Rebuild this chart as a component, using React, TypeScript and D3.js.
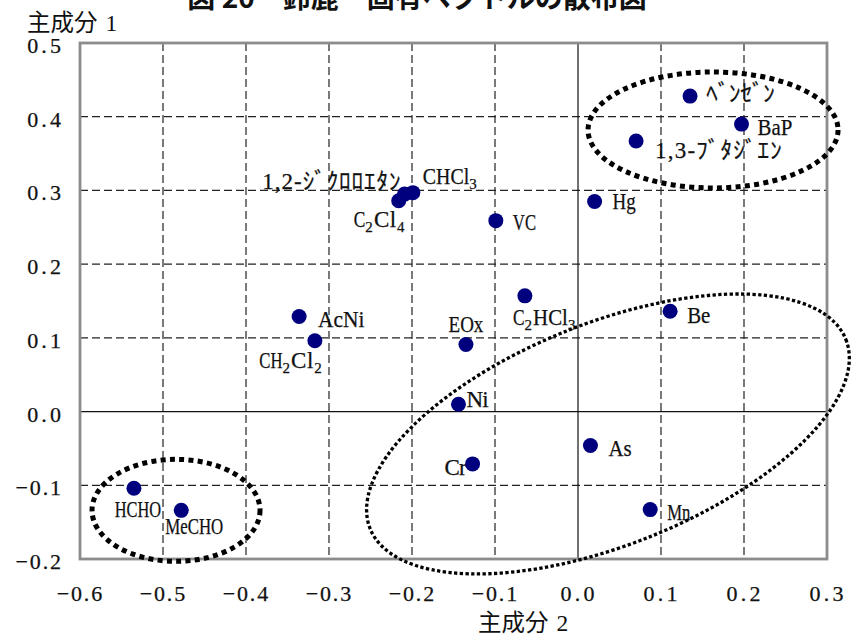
import React from 'react';
import * as d3 from 'd3';

// species names ("_n" marks a subscript digit)
const species = [
  'ﾍﾞﾝｾﾞﾝ', 'BaP', '1,3-ﾌﾞﾀｼﾞｴﾝ', 'Hg', 'VC', 'CHCl_3', '1,2-ｼﾞｸﾛﾛｴﾀﾝ', 'C_2Cl_4',
  'AcNi', 'CH_2Cl_2', 'EOx', 'C_2HCl_3', 'Be', 'Ni', 'As', 'Cr', 'Mn', 'HCHO', 'MeCHO',
];
// principal component 2 (x) and 1 (y)
const pc2 = [0.135, 0.197, 0.070, 0.020, -0.099, -0.199, -0.209, -0.216, -0.336, -0.317, -0.135, -0.064, 0.111, -0.144, 0.015, -0.127, 0.087, -0.535, -0.478];
const pc1 = [0.428, 0.390, 0.367, 0.285, 0.259, 0.297, 0.295, 0.286, 0.129, 0.096, 0.091, 0.157, 0.136, 0.010, -0.046, -0.071, -0.133, -0.104, -0.134];

const xTicks = [-0.6, -0.5, -0.4, -0.3, -0.2, -0.1, 0.0, 0.1, 0.2, 0.3];
const yTicks = [-0.2, -0.1, 0.0, 0.1, 0.2, 0.3, 0.4, 0.5];

// group outlines (centre in data units)
const groups = [
  { cx: 0.1627, cy: 0.382, rx: 125, ry: 58, angle: 0, thick: true },
  { cx: -0.4843, cy: -0.134, rx: 84, ry: 51, angle: 0, thick: true },
  { cx: 0.0361, cy: -0.0304, rx: 256, ry: 111, angle: -21.7, thick: false },
];

// label placement relative to the dot
const labelPos: Record<string, [number, number, string]> = {
  'ﾍﾞﾝｾﾞﾝ': [16, 5, 'start'],
  'BaP': [16, 11, 'start'],
  '1,3-ﾌﾞﾀｼﾞｴﾝ': [19, 17, 'start'],
  'Hg': [18, 8, 'start'],
  'VC': [17, 9, 'start'],
  'CHCl_3': [10, -9, 'start'],
  '1,2-ｼﾞｸﾛﾛｴﾀﾝ': [-3, -5, 'end'],
  'C_2Cl_4': [7, 26, 'end'],
  'AcNi': [19, 11, 'start'],
  'CH_2Cl_2': [8, 27, 'end'],
  'EOx': [0, -12, 'middle'],
  'C_2HCl_3': [-12, 29, 'start'],
  'Be': [17, 12, 'start'],
  'Ni': [8, 3, 'start'],
  'As': [18, 11, 'start'],
  'Cr': [-5, 11, 'end'],
  'Mn': [17, 10, 'start'],
  'HCHO': [4, 29, 'middle'],
  'MeCHO': [13, 24, 'middle'],
};

const W = 861, H = 637;
const FONT = '"Liberation Serif", "Noto Sans CJK JP", serif';
const FS = 23, ADV = 11.6;      // half-width mincho look
const SFS = 15, SADV = 8.6;     // subscripts

const x = d3.scaleLinear().domain([-0.6, 0.3]).range([80, 827]);
const y = d3.scaleLinear().domain([-0.2, 0.5]).range([559, 43]);

let ctx: CanvasRenderingContext2D | null = null;
function natural(s: string, fs: number) {
  if (!ctx) ctx = document.createElement('canvas').getContext('2d');
  if (!ctx) return s.length * fs * 0.5;
  ctx.font = `${fs}px "Liberation Serif", "Noto Sans CJK JP", serif`;
  return ctx.measureText(s).width;
}

type Part = { t: string; sub: boolean };
function parse(s: string): Part[] {
  const out: Part[] = [];
  s.split(/(_\d)/).forEach(p => {
    if (!p) return;
    if (p.startsWith('_')) out.push({ t: p.slice(1), sub: true });
    else out.push({ t: p, sub: false });
  });
  return out;
}

// text laid out on a fixed pitch per char, like the original half-width font
function HalfText({ x0, y0, s, anchor, fs = FS, fill = '#111' }: { x0: number; y0: number; s: string; anchor: string; fs?: number; fill?: string }) {
  const parts = parse(s);
  const widths = parts.map(p => p.t.length * (p.sub ? SADV : ADV));
  const total = d3.sum(widths);
  let cx = anchor === 'end' ? x0 - total : anchor === 'middle' ? x0 - total / 2 : x0;
  return (
    <text fill={fill} fontFamily={FONT} fontSize={fs} stroke={fill} strokeWidth={0.25}>
      {parts.map((p, i) => {
        const px = cx;
        cx += widths[i];
        const f = p.sub ? SFS : fs;
        const squeeze = natural(p.t, f) > widths[i];
        return (
          <tspan key={i} x={px} y={y0 + (p.sub ? 5 : 0)} fontSize={f}
            textLength={widths[i] - (squeeze ? 0 : 1)} lengthAdjust={squeeze ? 'spacingAndGlyphs' : 'spacing'}>
            {p.t}
          </tspan>
        );
      })}
    </text>
  );
}

export default function App() {
  const fmt = d3.format('.1f');
  const [x0, x1] = x.range();
  const [y0, y1] = y.range();
  return (
    <svg width={W} height={H} style={{ position: 'absolute', left: 0, top: 0, background: '#fff' }}>
      <rect x={0} y={0} width={W} height={H} fill="#fff" />

      {/* title, clipped at the top as in the scan */}
      <text x={417} y={8} textAnchor="middle" fontSize={28} fontWeight="bold"
        fontFamily='"Noto Sans CJK JP", sans-serif' fill="#111">
        図 20　鈴鹿　固有ベクトルの散布図
      </text>

      {/* grid */}
      {xTicks.filter(t => t > -0.6 && t < 0.3 && Math.abs(t) > 1e-9).map(t => (
        <line key={'gx' + t} x1={x(t)} x2={x(t)} y1={y1} y2={y0} stroke="#222" strokeWidth={1.2} strokeDasharray="8 4" />
      ))}
      {yTicks.filter(t => t > -0.2 && t < 0.5 && Math.abs(t) > 1e-9).map(t => (
        <line key={'gy' + t} x1={x0} x2={x1} y1={y(t)} y2={y(t)} stroke="#222" strokeWidth={1.2} strokeDasharray="8 4" />
      ))}
      <line x1={x(0)} x2={x(0)} y1={y1} y2={y0} stroke="#111" strokeWidth={1.2} />
      <line x1={x0} x2={x1} y1={y(0)} y2={y(0)} stroke="#111" strokeWidth={1.2} />

      {/* frame */}
      <rect x={x0} y={y1} width={x1 - x0} height={y0 - y1} fill="none" stroke="#8c8c8c" strokeWidth={2.8} />

      {/* tick labels */}
      {xTicks.map(t => (
        <HalfText key={'tx' + t} x0={x(t)} y0={601} s={fmt(t)} anchor="middle" fs={22} />
      ))}
      {yTicks.map(t => (
        <HalfText key={'ty' + t} x0={62} y0={y(t) + 10} s={fmt(t)} anchor="end" fs={22} />
      ))}

      {/* axis titles */}
      <text x={27} y={31} fontSize={23.5} fontFamily={FONT} fill="#111">主成分<tspan dx={8}>1</tspan></text>
      <text x={478} y={631} fontSize={23.5} fontFamily={FONT} fill="#111">主成分<tspan dx={8}>2</tspan></text>

      {/* labels */}
      {species.map((s, i) => {
        const [dx, dy, anchor] = labelPos[s];
        return <HalfText key={'l' + s} x0={x(pc2[i]) + dx} y0={y(pc1[i]) + dy} s={s} anchor={anchor} />;
      })}

      {/* points */}
      {species.map((s, i) => (
        <circle key={'p' + s} cx={x(pc2[i])} cy={y(pc1[i])} r={7.5} fill="#00007f" />
      ))}

      {/* group outlines */}
      {groups.map((g, i) => {
        const cx = x(g.cx), cy = y(g.cy);
        return (
          <ellipse key={'e' + i} cx={cx} cy={cy} rx={g.rx} ry={g.ry} fill="none" stroke="#000"
            strokeWidth={g.thick ? 5 : 3.3} strokeDasharray={g.thick ? '5 4.3' : '3.3 2.4'}
            transform={`rotate(${g.angle} ${cx} ${cy})`} />
        );
      })}
    </svg>
  );
}
